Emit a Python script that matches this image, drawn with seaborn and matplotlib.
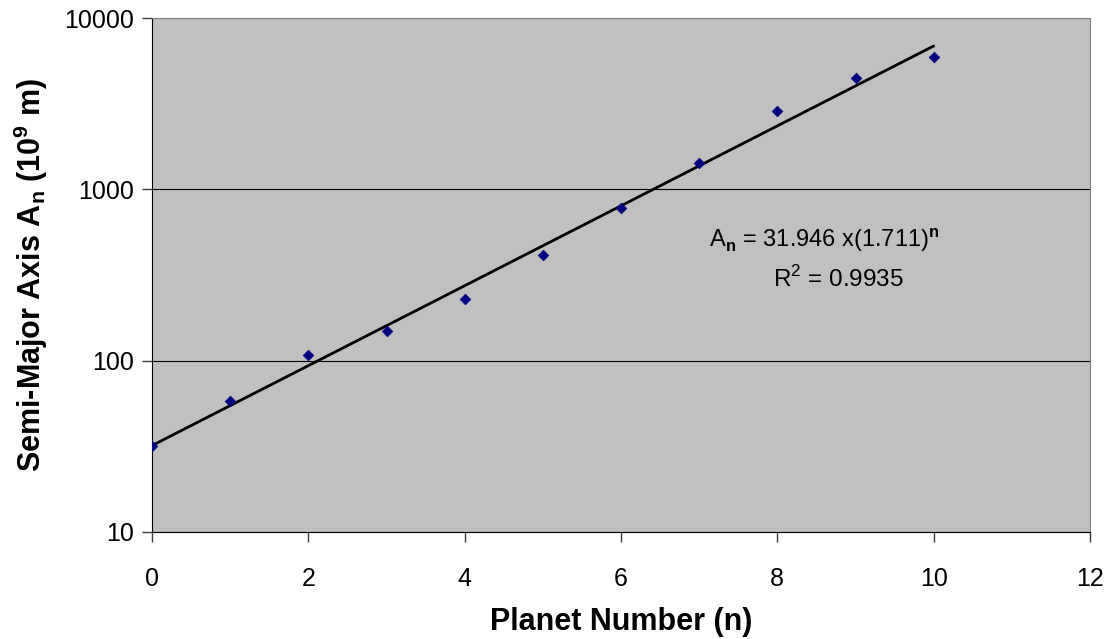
import numpy as np
import matplotlib
matplotlib.use('Agg')
import matplotlib.pyplot as plt
import seaborn as sns

# Planet number vs semi-major axis (10^9 m)
planet_n = [0, 1, 2, 3, 4, 5, 6, 7, 8, 9, 10]
semi_major = [31.8, 57.9, 108.2, 149.6, 227.9, 414.0, 778.6, 1433.5, 2872.5, 4495.1, 5906.4]

# exponential trend fitted in the original
fit_a = 31.946
fit_b = 1.711
fit_r2 = 0.9935

sns.set_style('white')
plt.rcParams['font.family'] = ['Liberation Sans', 'DejaVu Sans']
plt.rcParams['text.color'] = 'black'
plt.rcParams['axes.labelcolor'] = 'black'
plt.rcParams['xtick.color'] = 'black'
plt.rcParams['ytick.color'] = 'black'
plt.rcParams['mathtext.fontset'] = 'custom'
plt.rcParams['mathtext.rm'] = 'Liberation Sans'
plt.rcParams['mathtext.bf'] = 'Liberation Sans:bold'

fig = plt.figure(figsize=(11.08, 6.39), dpi=100)
ax = fig.add_axes([0.1372, 0.1675, 0.8466, 0.8043])
ax.set_facecolor('#c0c0c0')

n_fine = np.linspace(planet_n[0], planet_n[-1], 50)
sns.lineplot(x=n_fine, y=fit_a * fit_b ** n_fine, ax=ax, color='black', lw=2, zorder=2)
sns.scatterplot(x=planet_n, y=semi_major, ax=ax, marker='D', s=30, color='#000080',
                edgecolor='#000080', zorder=3)

ax.set_yscale('log')
ax.set_ylim(10, 10000)
ax.set_xlim(0, 12)
ax.set_xticks(range(0, 13, 2))
ax.set_yticks([10, 100, 1000, 10000])
ax.set_yticklabels(['10', '100', '1000', '10000'])
ax.minorticks_off()
ax.yaxis.grid(True, color='black', lw=0.8)
ax.set_axisbelow(True)

for s in ['top', 'right']:
    ax.spines[s].set_color('#808080')
for s in ['left', 'bottom']:
    ax.spines[s].set_color('black')
ax.tick_params(axis='both', direction='out', length=7, width=1, color='#404040',
               labelsize=18, bottom=True, left=True)
ax.tick_params(axis='x', pad=18)
ax.tick_params(axis='y', pad=6)

ax.set_xlabel('Planet Number (n)', fontsize=22, fontweight='bold', labelpad=12)
ax.set_ylabel(r'Semi-Major Axis A$_\mathbf{n}$ (10$^\mathbf{9}$ m)', fontsize=22,
              fontweight='bold', labelpad=10)

ax.text(0.717, 0.568, r'A$_\mathbf{n}$ = 31.946 x(1.711)$^\mathbf{n}$',
        transform=ax.transAxes, fontsize=17, ha='center', va='center')
ax.text(0.732, 0.492, r'R$^2$ = %.4f' % fit_r2, transform=ax.transAxes, fontsize=17.5,
        ha='center', va='center')

fig.savefig('out.png', dpi=100)
